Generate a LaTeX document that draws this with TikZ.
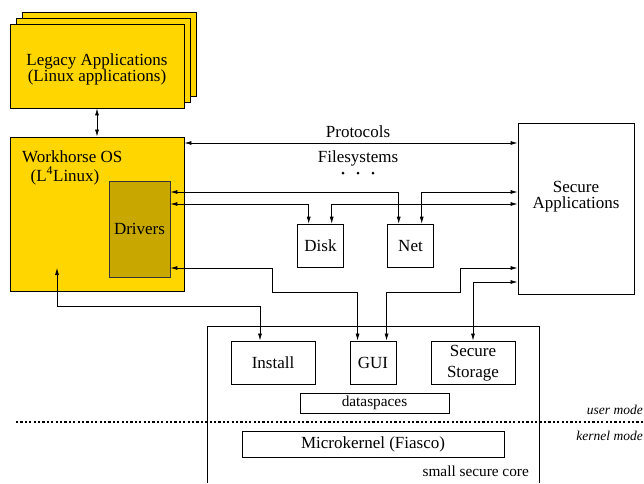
\documentclass[tikz,border=0pt]{standalone}
\usepackage{fontspec}
\setmainfont{Liberation Serif}
\newfontfamily\tms{Liberation Serif}
\usetikzlibrary{arrows.meta,calc}
\definecolor{gold}{RGB}{255,214,0}
\definecolor{drv}{RGB}{200,168,0}
\tikzset{
  x=1pt,y=-1pt,
  arr/.style={{Latex[length=7pt,width=4pt]}-{Latex[length=7pt,width=4pt]},line width=0.7pt},
  ybox/.style={draw=black,fill=gold,line width=0.9pt,inner sep=0pt},
  wbox/.style={draw=black,fill=white,line width=0.9pt,inner sep=0pt,align=center,font=\tms\fontsize{17}{20}\selectfont},
  tbox/.style={draw=black,fill=white,line width=1.6pt,inner sep=0pt,align=center,font=\tms\fontsize{17}{20}\selectfont},
  lbl/.style={inner sep=0pt,align=center,font=\tms\fontsize{17}{17}\selectfont},
  slim/.style={lbl,text height=10.5pt,text depth=2.5pt},
  slbl/.style={inner sep=0pt,font=\tms\fontsize{15.3}{17}\selectfont},
  ilbl/.style={inner sep=0pt,font=\tms\fontsize{13.5}{15}\selectfont\itshape},
  dot/.style={circle,fill=black,inner sep=0pt,minimum size=3pt},
}
\begin{document}
\begin{tikzpicture}
\useasboundingbox (0,0) rectangle (644,483);
% legacy stack
\node[ybox,minimum width=174pt,minimum height=84pt] (leg3) at (109,54.5) {};
\node[ybox,minimum width=174pt,minimum height=84pt] (leg2) at (103,60.5) {};
\node[ybox,minimum width=174pt,minimum height=84pt] (legacy) at (97,66) {};
\node[slim] (legt1) at (97,61) {Legacy Applications};
\node[slim] (legt2) at (97,77) {(Linux applications)};
% workhorse
\node[ybox,minimum width=174pt,minimum height=154pt] (work) at (97,214) {};
\node[slim,anchor=west] (wtitle) at (22,158.5) {Workhorse OS};
\node[slim] (wsub) at (65,177) {(L\textsuperscript{4}Linux)};
\node[draw=black!80,fill=drv,line width=0.9pt,minimum width=61pt,minimum height=96pt,inner sep=0pt,lbl] (drivers) at (139.5,229) {Drivers};
% secure apps
\node[wbox,minimum width=116pt,minimum height=171pt] (secapp) at (576,208.5) {};
\node[slim] (sa1) at (576,188) {Secure};
\node[slim] (sa2) at (576,204) {Applications};
% disk, net
\node[tbox,minimum width=46pt,minimum height=43pt] (disk) at (320.5,246) {Disk};
\node[tbox,minimum width=46pt,minimum height=43pt] (net) at (410.5,246) {Net};
% labels
\node[lbl] (proto) at (358,132) {Protocols};
\node[lbl] (fs) at (358,158) {Filesystems};
\node[dot] (d1) at (343,173) {};
\node[dot] (d2) at (358,173) {};
\node[dot] (d3) at (373,173) {};
% core
\draw[line width=0.9pt] (207,483) -- (207,326) -- (539,326) -- (539,483);
\node[wbox,minimum width=84pt,minimum height=43pt] (install) at (273,362.5) {Install};
\node[wbox,minimum width=46pt,minimum height=43pt] (gui) at (373,362.5) {GUI};
\node[wbox,minimum width=84pt,minimum height=43pt] (storage) at (473,362.5) {};
\node[slim] (st1) at (473,352) {Secure};
\node[slim] (st2) at (473,373) {Storage};
\node[wbox,minimum width=149pt,minimum height=20pt,font=\tms\fontsize{15.3}{17}\selectfont] (ds) at (374.5,403) {dataspaces};
\node[wbox,minimum width=262pt,minimum height=26pt] (mk) at (373,444) {Microkernel (Fiasco)};
\node[slbl,anchor=east] (core) at (529,471) {small secure core};
\draw[line width=1.5pt,dash pattern=on 2.2pt off 2.2pt] (16,422) -- (644,422);
\node[ilbl,anchor=east] (um) at (643,410) {user mode};
\node[ilbl,anchor=east] (km) at (643,436) {kernel mode};
% connectors
\draw[arr] (legacy.south) -- (work.north);
\draw[arr] (work.east |- 0,143) -- (secapp.west |- 0,143);
\draw[arr] (drivers.east |- 0,192) -| ([xshift=12pt]net.north west);
\draw[arr] (drivers.east |- 0,204) -| ([xshift=12pt]disk.north west);
\draw[arr] ([xshift=35pt]net.north west) |- (secapp.west |- 0,192);
\draw[arr] ([xshift=35pt]disk.north west) |- (secapp.west |- 0,204);
\draw[arr] (drivers.east |- 0,268) -- (272,268) -- (272,292) -| ([xshift=8pt]gui.north west);
\draw[arr] ([xshift=37pt]gui.north west) |- (460,292) |- (secapp.west |- 0,268);
\draw[arr] (storage.north) |- (secapp.west |- 0,282);
\coordinate (wend) at (57,268);
\draw[arr] (install.north -| 260,0) -- (260,306) -| (wend);
\end{tikzpicture}
\end{document}
